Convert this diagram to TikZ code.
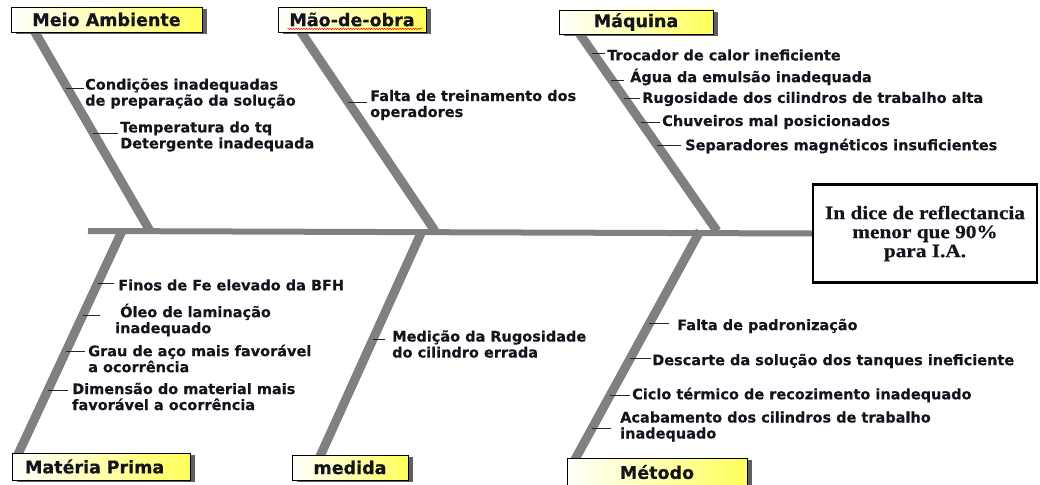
\documentclass[tikz,border=0pt]{standalone}
\usepackage{fontspec}
\newfontfamily\lblfont{DejaVu Sans}[FakeBold=0.4]
\newfontfamily\catfont{DejaVu Sans}[FakeBold=0.5]
\newfontfamily\efffont{Liberation Serif}[FakeStretch=1.12,FakeBold=0.6]
\usetikzlibrary{shadows,calc,decorations.pathmorphing}
\definecolor{bonegray}{RGB}{128,128,128}
\definecolor{ylw}{RGB}{255,255,90}
\definecolor{shd}{RGB}{95,95,95}
\definecolor{ink}{RGB}{20,20,30}
\tikzset{
  catbox/.style={draw=black, line width=0.8pt, left color=white, right color=ylw,
    inner sep=0pt, text=ink, font=\catfont\bfseries\fontsize{17.5}{19}\selectfont,
    drop shadow={shadow xshift=5pt, shadow yshift=-2pt, fill=shd, opacity=1}},
  bone/.style={draw=bonegray, line width=9pt},
  spine/.style={draw=bonegray, line width=6pt},
  cause/.style={anchor=west, align=left, inner sep=0pt, text=ink,
    font=\lblfont\bfseries\fontsize{14.5}{16}\selectfont},
  tick/.style={draw=black!85, line width=0.8pt},
  effbox/.style={draw=black, line width=2.5pt, inner sep=0pt, align=center, text=ink,
    font=\efffont\bfseries\fontsize{19}{19}\selectfont},
}
\begin{document}
\begin{tikzpicture}[x=1pt,y=-1pt]
\useasboundingbox (0,0) rectangle (1040,484);

% effect box
\node[effbox, minimum width=224, minimum height=98] (eff) at (925,233.5)
  {In dice de reflectancia\\menor que 90\%\\para I.A.};

% spine and bone joints
\coordinate (spL) at (88,231);
\coordinate (jMeio) at (150,231);
\coordinate (jMao) at (435,231);
\coordinate (jMaq) at (717,231);
\coordinate (jMat) at (122,231);
\coordinate (jMed) at (422,231);
\coordinate (jMet) at (700,231);

% box footprints (anchors for the bones)
\path (106.5,19.5) node[minimum width=191, minimum height=25, inner sep=0] (meioP) {};
\path (352,19.5) node[minimum width=148, minimum height=25, inner sep=0] (maoP) {};
\path (636,22) node[minimum width=154, minimum height=24, inner sep=0] (maqP) {};
\path (101,466.5) node[minimum width=178, minimum height=27, inner sep=0] (matP) {};
\path (350,467.5) node[minimum width=116, minimum height=25, inner sep=0] (medP) {};
\path (657,472) node[minimum width=180, minimum height=28, inner sep=0] (metP) {};

% bones
\draw[bone] ($(meioP.south west)+(23,-2)$) -- (jMeio);
\draw[bone] ($(maoP.south west)+(22,-2)$) -- (jMao);
\draw[bone] ($(maqP.south west)+(19,-3)$) -- (jMaq);
\draw[bone] ($(matP.north west)+(6,2)$) -- (jMat);
\draw[bone] ($(medP.north west)+(28,2)$) -- (jMed);
\draw[bone] ($(metP.north west)+(8,2)$) -- (jMet);
\draw[spine] (spL) -- (eff.west);

% category boxes
\node[catbox, minimum width=191, minimum height=25] (meio) at (meioP) {Meio Ambiente};
\node[catbox, minimum width=148, minimum height=25] (mao) at (maoP) {Mão-de-obra};
\node[catbox, minimum width=154, minimum height=24] (maq) at (maqP) {Máquina};
\node[catbox, minimum width=178, minimum height=27, text width=152, align=left] (mat) at (matP) {Matéria Prima};
\node[catbox, minimum width=116, minimum height=25] (med) at (medP) {medida};
\node[catbox, minimum width=180, minimum height=28] (met) at (metP) {Método};
\draw[red, line width=0.5pt, decorate, decoration={snake, amplitude=0.7pt, segment length=2.6pt}]
  ($(mao.south west)+(10,-3.5)$) -- ($(mao.south east)+(-4,-3.5)$);

% causes
\node[cause] (t1) at (85,93.5) {Condições inadequadas\\de preparação da solução};
\node[cause] (t2) at (120,136.5) {Temperatura do tq\\Detergente inadequada};
\node[cause] (t3) at (370,105) {Falta de treinamento dos\\operadores};
\node[cause] (m1) at (607,55) {Trocador de calor ineficiente};
\node[cause] (m2) at (630,77) {Água da emulsão inadequada};
\node[cause] (m3) at (642,99) {Rugosidade dos cilindros de trabalho alta};
\node[cause] (m4) at (662,122) {Chuveiros mal posicionados};
\node[cause] (m5) at (685,146) {Separadores magnéticos insuficientes};
\node[cause] (p1) at (118,285) {Finos de Fe elevado da BFH};
\node[cause] (p2) at (115,320) {\hspace{5pt}Óleo de laminação\\inadequado};
\node[cause] (p3) at (88,358.5) {Grau de aço mais favorável\\a ocorrência};
\node[cause] (p4) at (72,396.5) {Dimensão do material mais\\favorável a ocorrência};
\node[cause] (md) at (392,344) {Medição da Rugosidade\\do cilindro errada};
\node[cause] (f1) at (677,326) {Falta de padronização};
\node[cause] (f2) at (652,361) {Descarte da solução dos tanques ineficiente};
\node[cause] (f3) at (632,395) {Ciclo térmico de recozimento inadequado};
\node[cause] (f4) at (620,426.5) {Acabamento dos cilindros de trabalho\\inadequado};

% tick starts on bones
\coordinate (k1) at (66,88);
\coordinate (k2) at (92.6,133);
\coordinate (k3) at (347.5,102);
\coordinate (q1) at (592,53);
\coordinate (q2) at (611,80);
\coordinate (q3) at (623.6,98);
\coordinate (q4) at (640.5,122);
\coordinate (q5) at (656.6,145);
\coordinate (r1) at (97.6,283);
\coordinate (r2) at (82.6,315);
\coordinate (r3) at (65.8,351);
\coordinate (r4) at (47.5,390);
\coordinate (s1) at (372.8,339);
\coordinate (u1) at (649.3,323);
\coordinate (u2) at (630,358);
\coordinate (u3) at (609.7,395);
\coordinate (u4) at (591.5,428);

\draw[tick] (k1) -- ([xshift=-1]k1 -| t1.west);
\draw[tick] (k2) -- ([xshift=-2]k2 -| t2.west);
\draw[tick] (k3) -- ([xshift=-3]k3 -| t3.west);
\draw[tick] (q1) -- ([xshift=-2]q1 -| m1.west);
\draw[tick] (q2) -- ([xshift=-6]q2 -| m2.west);
\draw[tick] (q3) -- ([xshift=-2]q3 -| m3.west);
\draw[tick] (q4) -- ([xshift=-2]q4 -| m4.west);
\draw[tick] (q5) -- ([xshift=-4]q5 -| m5.west);
\draw[tick] (r1) -- ([xshift=-4]r1 -| p1.west);
\draw[tick] (r2) -- ([xshift=-15]r2 -| p2.west);
\draw[tick] (r3) -- ([xshift=-3]r3 -| p3.west);
\draw[tick] (r4) -- ([xshift=-4]r4 -| p4.west);
\draw[tick] (s1) -- ([xshift=-7]s1 -| md.west);
\draw[tick] (u1) -- ([xshift=-8]u1 -| f1.west);
\draw[tick] (u2) -- ([xshift=-1]u2 -| f2.west);
\draw[tick] (u3) -- ([xshift=-2]u3 -| f3.west);
\draw[tick] (u4) -- ([xshift=-9]u4 -| f4.west);
\end{tikzpicture}
\end{document}
